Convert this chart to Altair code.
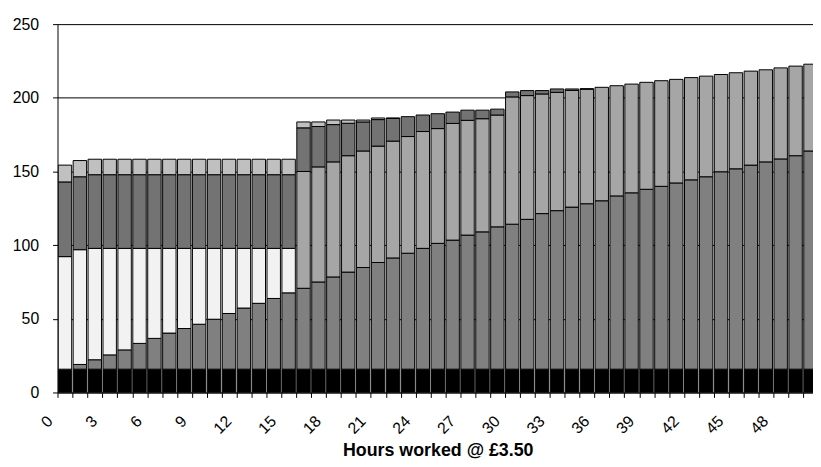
import altair as alt
import pandas as pd

hours = list(range(51))
tick_labels = [0, 3, 6, 9, 12, 15, 18, 21, 24, 27, 30, 33, 36, 39, 42, 45, 48]
y_ticks = [0, 50, 100, 150, 200, 250]

series_names = ["Fixed", "Net earnings", "Income Support", "Family Credit",
                "Housing Benefit", "Council Tax Benefit"]
series_colors = ["#000000", "#808080", "#f2f2f2", "#a6a6a6", "#737373", "#c0c0c0"]

fixed = [15.8, 15.8, 15.8, 15.8, 15.8, 15.8, 15.8, 15.8, 15.8, 15.8,
         15.8, 15.8, 15.8, 15.8, 15.8, 15.8, 15.8, 15.8, 15.8, 15.8,
         15.8, 15.8, 15.8, 15.8, 15.8, 15.8, 15.8, 15.8, 15.8, 15.8,
         15.8, 15.8, 15.8, 15.8, 15.8, 15.8, 15.8, 15.8, 15.8, 15.8,
         15.8, 15.8, 15.8, 15.8, 15.8, 15.8, 15.8, 15.8, 15.8, 15.8, 15.8]
earnings = [0.0, 3.2, 6.4, 9.7, 13.1, 17.5, 20.9, 24.5, 27.6, 30.5,
            33.9, 37.8, 41.5, 44.7, 48.0, 51.8, 54.9, 59.2, 62.6, 65.9,
            69.0, 72.4, 75.5, 78.7, 82.0, 85.4, 87.6, 91.0, 93.2, 96.6,
            98.4, 101.7, 105.6, 107.6, 110.0, 112.3, 114.3, 117.6, 119.7, 122.1,
            124.1, 126.4, 128.5, 130.6, 134.0, 136.0, 138.5, 140.7, 142.7, 144.9, 148.1]
income_support = [76.4, 77.9, 75.6, 72.3, 68.9, 64.5, 61.1, 57.5, 54.4, 51.5,
                  48.1, 44.2, 40.5, 37.3, 34.0, 30.2, 0, 0, 0, 0,
                  0, 0, 0, 0, 0, 0, 0, 0, 0, 0,
                  0, 0, 0, 0, 0, 0, 0, 0, 0, 0,
                  0, 0, 0, 0, 0, 0, 0, 0, 0, 0, 0]
family_credit = [0, 0, 0, 0, 0, 0, 0, 0, 0, 0,
                 0, 0, 0, 0, 0, 0, 79.3, 78.1, 78.1, 79.0,
                 79.1, 79.0, 79.3, 79.2, 79.3, 77.9, 79.2, 77.9, 76.8, 75.9,
                 86.4, 84.0, 81.2, 80.3, 79.2, 77.7, 77.0, 74.8, 73.8, 72.6,
                 71.7, 70.3, 69.4, 68.3, 66.0, 65.2, 63.8, 62.5, 61.8, 60.8, 58.9]
housing = [50.7, 49.5, 50.0, 50.0, 50.0, 50.0, 50.0, 50.0, 50.0, 50.0,
           50.0, 50.0, 50.0, 50.0, 50.0, 50.0, 29.6, 27.4, 25.3, 22.0,
           19.7, 18.0, 15.4, 13.5, 11.2, 10.1, 7.7, 6.9, 5.8, 4.0,
           3.4, 3.4, 2.3, 2.3, 1.0, 0.4, 0, 0, 0, 0,
           0, 0, 0, 0, 0, 0, 0, 0, 0, 0, 0]
council_tax = [11.4, 11.0, 10.5, 10.5, 10.5, 10.5, 10.5, 10.5, 10.5, 10.5,
               10.5, 10.5, 10.5, 10.5, 10.5, 10.5, 4.0, 3.1, 3.1, 2.2,
               1.3, 1.1, 0.3, 0, 0, 0, 0, 0, 0, 0,
               0, 0, 0, 0, 0, 0, 0, 0, 0, 0,
               0, 0, 0, 0, 0, 0, 0, 0, 0, 0, 0]

all_series = [fixed, earnings, income_support, family_credit, housing, council_tax]

rows = []
for i, (name, vals) in enumerate(zip(series_names, all_series)):
    for h, v in zip(hours, vals):
        if v > 0:
            rows.append({"hour": h, "series": name, "order": i, "value": v})
df = pd.DataFrame(rows)

label_expr = "indexof(" + str(tick_labels) + ", datum.value) >= 0 ? datum.label : ''"

FONT = "Liberation Sans"

chart = alt.Chart(df).mark_bar(stroke="black", strokeWidth=1, clip=True).encode(
    x=alt.X(
        "hour:O",
        scale=alt.Scale(domain=hours, range=[0, 768], paddingInner=0.1, paddingOuter=0.05),
        axis=alt.Axis(
            values=hours, bandPosition=0, labelExpr=label_expr,
            labelAngle=315, labelAlign="right", labelBaseline="middle",
            labelOffset=-15, labelPadding=21, labelFont=FONT, labelFontSize=16,
            labelColor="black", tickSize=5, tickColor="black", domainColor="black",
            grid=False, title="Hours worked @ £3.50", titleFont=FONT,
            titleFontSize=18, titleFontWeight="bold", titleColor="black",
            titleX=384, titleY=64, titleBaseline="alphabetic", titleAlign="center",
            labelOverlap=False,
        ),
    ),
    y=alt.Y(
        "value:Q", stack="zero",
        scale=alt.Scale(domain=[0, 250], nice=False),
        axis=alt.Axis(
            values=y_ticks, grid=True, gridColor="black", gridWidth=1, gridOpacity=1,
            domainColor="black", tickColor="black", tickSize=5, labelPadding=14,
            labelFont=FONT, labelFontSize=16, labelColor="black", title=None,
        ),
    ),
    color=alt.Color("series:N", scale=alt.Scale(domain=series_names, range=series_colors),
                    legend=None),
    order=alt.Order("order:Q"),
).properties(
    width=763, height=372,
    autosize=alt.AutoSizeParams(type="none"),
    padding={"left": 50, "top": 14, "right": 0, "bottom": 73},
).configure_view(strokeWidth=0)

chart.save("out.html", embed_options={"renderer": "svg", "actions": False})
